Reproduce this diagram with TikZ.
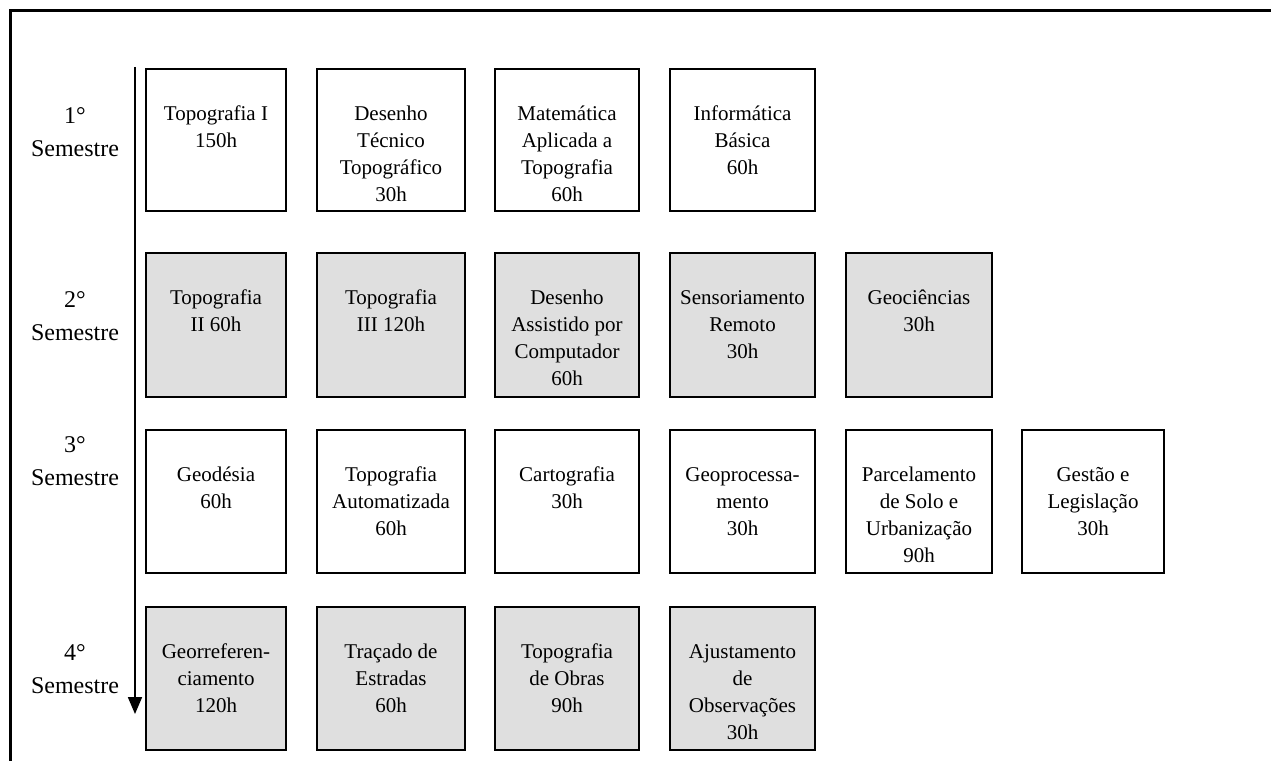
\documentclass[tikz,border=0pt]{standalone}
\usepackage{fontspec}
\setmainfont{Liberation Serif}
\usetikzlibrary{arrows.meta}
\definecolor{boxgray}{RGB}{223,223,223}
\tikzset{
  plainbox/.style={draw=black, line width=2.9pt, fill=white, rectangle, inner sep=0pt},
  graybox/.style={draw=black, line width=2.9pt, fill=boxgray, rectangle, inner sep=0pt},
  boxtext/.style={align=center, inner sep=0pt, anchor=north, font=\fontsize{21}{27}\selectfont},
  semlabel/.style={align=center, inner sep=0pt, anchor=north, font=\fontsize{24}{33}\selectfont},
  timeline/.style={line width=1.8pt, -{Triangle[width=14pt,length=17pt]}},
  frameline/.style={line width=3pt, line join=miter}
}
\newcommand{\cbox}[7]{%
  \node[#6, minimum width={(#3-#2)*1pt}, minimum height={(#5-#4)*1pt}] (#1) at ({(#2+#3)/2},{(#4+#5)/2}) {};
  \node[boxtext] (#1t) at ([yshift=-33pt]#1.north) {\rule{0pt}{20pt}#7};
}
\begin{document}
\begin{tikzpicture}[x=1pt,y=-1pt]
\useasboundingbox (0,0) rectangle (1271,760);
% outer frame
\coordinate (fbl) at (10,762);
\coordinate (ftl) at (10,11);
\coordinate (ftr) at (1273,11);
\draw[frameline] (fbl) -- (ftl) -- (ftr);
% time line
\coordinate (atop) at (135,67);
\coordinate (abot) at (135,714);
\draw[timeline] (atop) -- (abot);
% semester labels
\node[semlabel] (s1) at (75,103) {\rule{0pt}{20pt}1°\\Semestre};
\node[semlabel] (s2) at (75,287.5) {\rule{0pt}{20pt}2°\\Semestre};
\node[semlabel] (s3) at (75,432) {\rule{0pt}{20pt}3°\\Semestre};
\node[semlabel] (s4) at (75,640) {\rule{0pt}{20pt}4°\\Semestre};
% row 1
\cbox{b11}{146}{286}{69}{211}{plainbox}{Topografia I\\150h}
\cbox{b12}{317}{465}{69}{211}{plainbox}{Desenho\\Técnico\\Topográfico\\30h}
\cbox{b13}{495}{639}{69}{211}{plainbox}{Matemática\\Aplicada a\\Topografia\\60h}
\cbox{b14}{670}{815}{69}{211}{plainbox}{Informática\\Básica\\60h}
% row 2
\cbox{b21}{146}{286}{253}{397}{graybox}{Topografia\\II 60h}
\cbox{b22}{317}{465}{253}{397}{graybox}{Topografia\\III 120h}
\cbox{b23}{495}{639}{253}{397}{graybox}{Desenho\\Assistido por\\Computador\\60h}
\cbox{b24}{670}{815}{253}{397}{graybox}{Sensoriamento\\Remoto\\30h}
\cbox{b25}{846}{992}{253}{397}{graybox}{Geociências\\30h}
% row 3
\cbox{b31}{146}{286}{430}{573}{plainbox}{Geodésia\\60h}
\cbox{b32}{317}{465}{430}{573}{plainbox}{Topografia\\Automatizada\\60h}
\cbox{b33}{495}{639}{430}{573}{plainbox}{Cartografia\\30h}
\cbox{b34}{670}{815}{430}{573}{plainbox}{Geoprocessa-\\mento\\30h}
\cbox{b35}{846}{992}{430}{573}{plainbox}{Parcelamento\\de Solo e\\Urbanização\\90h}
\cbox{b36}{1022}{1164}{430}{573}{plainbox}{Gestão e\\Legislação\\30h}
% row 4
\cbox{b41}{146}{286}{607}{750}{graybox}{Georreferen-\\ciamento\\120h}
\cbox{b42}{317}{465}{607}{750}{graybox}{Traçado de\\Estradas\\60h}
\cbox{b43}{495}{639}{607}{750}{graybox}{Topografia\\de Obras\\90h}
\cbox{b44}{670}{815}{607}{750}{graybox}{Ajustamento\\de\\Observações\\30h}
\end{tikzpicture}
\end{document}
